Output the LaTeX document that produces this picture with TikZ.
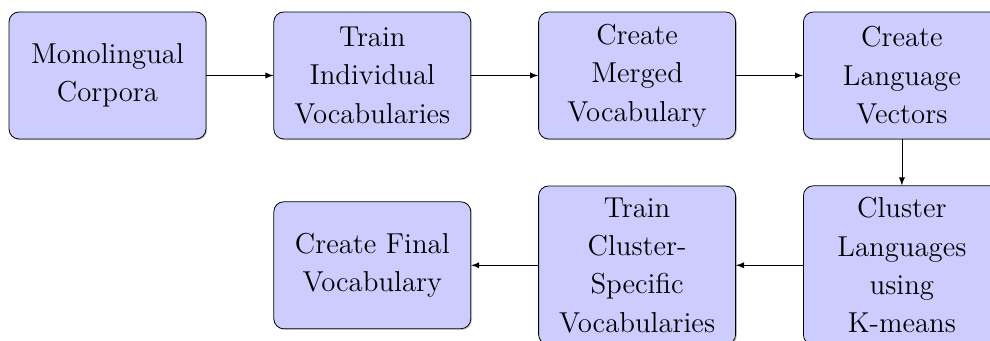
\documentclass[tikz,border=0pt]{standalone}
\usetikzlibrary{positioning,shadows}

\begin{document}
\begin{tikzpicture}[
    stage/.style={draw, rounded corners=5pt, fill=blue!20,
                  drop shadow={shadow xshift=0.6pt, shadow yshift=-0.6pt, opacity=0.4},
                  minimum width=98.5pt, minimum height=63.5pt, inner ysep=5.8pt,
                  align=center, font=\fontsize{14.4pt}{19.2pt}\selectfont},
    flow/.style={-latex},
    node distance=33.5pt and 33.5pt]
\clip (0,0) rectangle (495pt,-170.5pt);
\node[stage] (mono) at (53.75pt,-37.75pt) {Monolingual\\Corpora};
\node[stage, right=of mono] (trainind) {Train\\Individual\\Vocabularies};
\node[stage, right=of trainind] (merged) {Create\\Merged\\Vocabulary};
\node[stage, right=of merged] (langvec) {Create\\Language\\Vectors};
\node[stage, below=23pt of langvec] (cluster) {Cluster\\Languages\\using\\K-means};
\node[stage, left=of cluster] (trainclus) {Train\\Cluster-\\Specific\\Vocabularies};
\node[stage, left=of trainclus] (final) {Create Final\\Vocabulary};
\draw[flow] (mono) -- (trainind);
\draw[flow] (trainind) -- (merged);
\draw[flow] (merged) -- (langvec);
\draw[flow] (langvec) -- (cluster);
\draw[flow] (cluster) -- (trainclus);
\draw[flow] (trainclus) -- (final);
\end{tikzpicture}
\end{document}
